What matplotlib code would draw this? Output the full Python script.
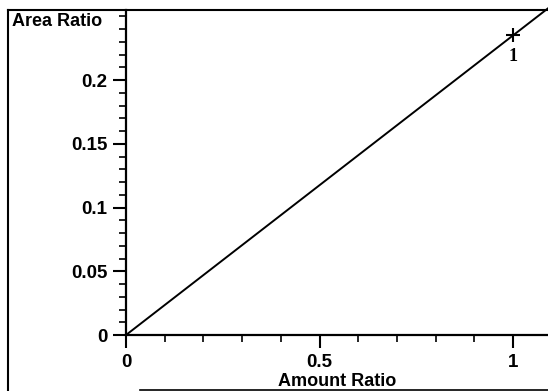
import matplotlib
matplotlib.use("Agg")
import matplotlib.pyplot as plt
from matplotlib.lines import Line2D
import numpy as np

# data
amount = [0.0, 1.09]
area = [0.0, 0.2563]
point_x = [1.0]
point_y = [0.235]
point_labels = ["1"]
yticks = [0, 0.05, 0.1, 0.15, 0.2]
yticklabels = ["0", "0.05", "0.1", "0.15", "0.2"]
xticks = [0, 0.5, 1]
xticklabels = ["0", "0.5", "1"]

plt.rcParams['font.family'] = ['Liberation Sans', 'DejaVu Sans']
plt.rcParams['font.weight'] = 'bold'

W, H = 548, 391
fig = plt.figure(figsize=(W/100, H/100), dpi=100)
ax = fig.add_axes([126/W, 1-335/H, (548-126)/W, (335-10)/H])

ax.plot(amount, area, color='black', lw=1.4, clip_on=False)
ax.plot(point_x, point_y, marker='+', color='black', ms=10, mew=1.5, ls='none')
for x, y, t in zip(point_x, point_y, point_labels):
    ax.annotate(t, (x, y), xytext=(0, -9), textcoords='offset points',
                ha='center', va='top', fontsize=13, fontweight='bold',
                family=['Liberation Serif'])

ax.set_xlim(0, 1.09)
ax.set_ylim(0, 0.255)
for s in ['top', 'right']:
    ax.spines[s].set_visible(False)
for s in ['left', 'bottom']:
    ax.spines[s].set_linewidth(1.6)

ax.set_xticks(xticks)
ax.set_xticklabels(xticklabels)
ax.set_yticks(yticks)
ax.set_yticklabels(yticklabels)
ax.set_xticks(np.arange(0.1, 1.09, 0.1), minor=True)
ax.set_yticks(np.arange(0.01, 0.255, 0.01), minor=True)
ax.tick_params(which='major', length=9.5, width=1.5, labelsize=13.5, pad=4)
ax.tick_params(which='minor', length=5, width=1.2)
for lab in ax.get_xticklabels() + ax.get_yticklabels():
    lab.set_fontweight('bold')

fig.text(12/W, 1-22/H, "Area Ratio", fontsize=13, fontweight='bold', va='center', ha='left')
fig.text(337/W, 1-382/H, "Amount Ratio", fontsize=13, fontweight='bold', va='center', ha='center')

# outer frame lines
fig.add_artist(Line2D([8/W, 8/W], [1-10/H, 1-390/H], color='black', lw=1.5))
fig.add_artist(Line2D([8/W, 548/W], [1-10/H, 1-10/H], color='black', lw=1.5))
fig.add_artist(Line2D([140/W, 548/W], [1-390/H, 1-390/H], color='black', lw=1.2))

fig.savefig("out.png", dpi=100)
